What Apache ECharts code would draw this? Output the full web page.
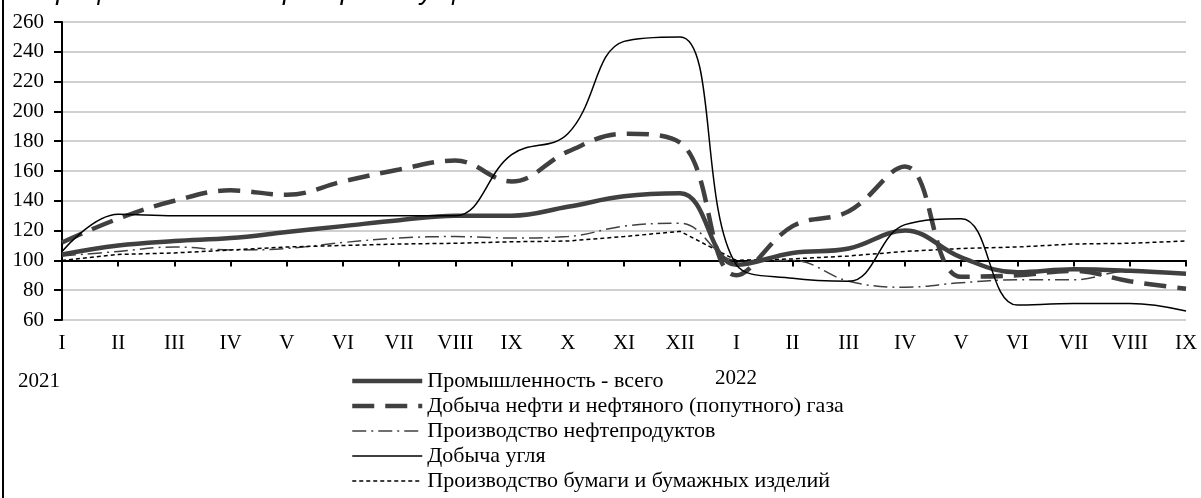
<!DOCTYPE html>
<html>
<head>
<meta charset="utf-8">
<script src="https://cdn.jsdelivr.net/npm/echarts@6/dist/echarts.min.js"></script>
<style>
  html, body { margin: 0; padding: 0; background: #fff; }
  #chart { width: 1201px; height: 498px; }
</style>
</head>
<body>
<div id="chart"></div>
<script>
// месяцы 2021 (I-XII) и 2022 (I-IX)
const months = ["I", "II", "III", "IV", "V", "VI", "VII", "VIII", "IX", "X", "XI", "XII",
                "I", "II", "III", "IV", "V", "VI", "VII", "VIII", "IX"];

const industry = [104, 110, 113, 115, 119, 123, 127, 130, 130, 136, 143, 145,
                  97, 105, 108, 120, 102, 92, 94, 93, 91];
const oil = [112, 128, 140, 147, 144, 153, 161, 167, 153, 173, 185, 179,
             90, 123, 133, 163, 89, 90, 93, 86, 81];
const refinery = [103, 106, 109, 107, 108, 112, 115, 116, 115, 116, 123, 125,
                  100, 100, 86, 82, 85, 87, 87, 93, 91];
const coal = [106, 131, 130, 130, 130, 130, 130, 130, 171, 185, 247, 250,
              97, 88, 86, 124, 128, 70, 71, 71, 66];
const paper = [100, 104, 105, 107, 109, 110, 111, 111.5, 112.5, 113, 116, 119.5,
               100, 101, 103, 106, 108, 109, 111, 111.5, 113];

const names = [
  "Промышленность - всего",
  "Добыча нефти и нефтяного (попутного) газа",
  "Производство нефтепродуктов",
  "Добыча угля",
  "Производство бумаги и бумажных изделий"
];
const yearLabels = ["2021", "2022"];

const yMin = 60, yMax = 260, baseLine = 100;
const gridTop = 22, gridBottom = 178, gridLeft = 62, gridRight = 15;
const plotH = 498 - gridTop - gridBottom;
// второй grid: нижняя граница совпадает с уровнем 100
const baseBottom = gridBottom + (baseLine - yMin) / (yMax - yMin) * plotH;

const serif = "Liberation Serif";

const styles = [
  { color: "#404040", width: 4.5, type: "solid" },
  { color: "#404040", width: 4.5, type: [22, 11] },
  { color: "#404040", width: 1.5, type: [14, 5, 2, 5] },
  { color: "#000", width: 1.5, type: "solid" },
  { color: "#000", width: 1.5, type: [4, 3] }
];

let myChart = echarts.init(document.getElementById("chart"), null, { renderer: "canvas" });

const option = {
  animation: false,
  backgroundColor: "#fff",
  grid: [
    { left: gridLeft, right: gridRight, top: gridTop, bottom: gridBottom },
    { left: gridLeft, right: gridRight, top: gridTop, bottom: baseBottom }
  ],
  legend: {
    orient: "vertical",
    left: 350,
    top: 370,
    padding: 0,
    itemWidth: 70,
    itemHeight: 14,
    itemGap: 3,
    itemStyle: { opacity: 0 },
    textStyle: { fontFamily: serif, fontSize: 22, color: "#000" },
    data: names.map((n, i) => ({ name: n, lineStyle: styles[i] }))
  },
  xAxis: [
    {
      type: "category",
      gridIndex: 0,
      data: months,
      boundaryGap: false,
      axisLine: { show: false },
      axisTick: { show: false },
      splitLine: { show: false },
      axisLabel: { interval: 0, margin: 13, color: "#000", fontFamily: serif, fontSize: 21 }
    },
    {
      type: "category",
      gridIndex: 1,
      data: months,
      boundaryGap: false,
      axisLine: { show: true, lineStyle: { color: "#000", width: 2 } },
      axisTick: { show: true, interval: 0, length: 6, lineStyle: { color: "#000", width: 2 } },
      axisLabel: { show: false },
      splitLine: { show: false }
    }
  ],
  yAxis: [
    {
      type: "value",
      gridIndex: 0,
      min: yMin,
      max: yMax,
      interval: 20,
      axisLine: { show: true, lineStyle: { color: "#000", width: 2 } },
      axisTick: { show: true, length: 8, lineStyle: { color: "#000", width: 2 } },
      axisLabel: { margin: 18, color: "#000", fontFamily: serif, fontSize: 21 },
      splitLine: { show: true, lineStyle: { color: "#c0c0c0", width: 1.5 } }
    },
    {
      type: "value",
      gridIndex: 1,
      min: baseLine,
      max: yMax,
      show: false
    }
  ],
  series: [
    { name: names[0], type: "line", data: industry, smooth: 0.4, symbol: "none", z: 5,
      lineStyle: styles[0], itemStyle: { color: styles[0].color } },
    { name: names[1], type: "line", data: oil, smooth: 0.4, symbol: "none", z: 4,
      lineStyle: styles[1], itemStyle: { color: styles[1].color } },
    { name: names[2], type: "line", data: refinery, smooth: 0.4, symbol: "none", z: 3,
      lineStyle: styles[2], itemStyle: { color: styles[2].color } },
    { name: names[3], type: "line", data: coal, smooth: 0.4, symbol: "none", z: 6,
      lineStyle: styles[3], itemStyle: { color: styles[3].color } },
    { name: names[4], type: "line", data: paper, smooth: false, symbol: "none", z: 3,
      lineStyle: styles[4], itemStyle: { color: styles[4].color } }
  ],
  graphic: [
    {
      type: "text", left: 16, top: -22, silent: true,
      style: {
        text: "В процентах к декабрю предыдущего года",
        font: "italic 27px 'Liberation Sans'", fill: "#000"
      }
    },
    {
      type: "line", silent: true,
      shape: { x1: 3, y1: 0, x2: 3, y2: 498 },
      style: { stroke: "#000", lineWidth: 2 }
    },
    {
      type: "text", left: 18, top: 371, silent: true,
      style: { text: yearLabels[0], font: "21px 'Liberation Serif'", fill: "#000" }
    },
    {
      type: "text", left: 715, top: 368, silent: true,
      style: { text: yearLabels[1], font: "21px 'Liberation Serif'", fill: "#000" }
    }
  ]
};

myChart.setOption(option);
</script>
</body>
</html>
